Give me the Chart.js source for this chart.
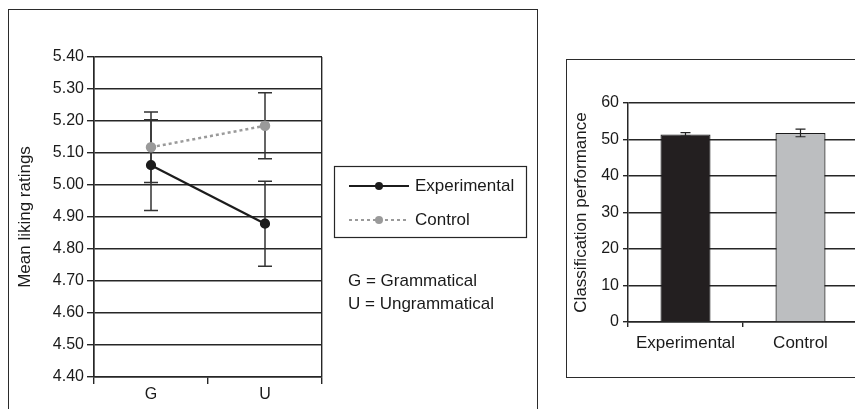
<!DOCTYPE html>
<html>
<head>
<meta charset="utf-8">
<script src="https://cdn.jsdelivr.net/npm/chart.js@4/dist/chart.umd.min.js"></script>
<style>
  body { margin: 0; background: #fff; overflow: hidden; width: 855px; height: 409px; position: relative; }
  .panel { position: absolute; border: 1px solid #2b2b2b; box-sizing: border-box; }
  canvas { position: absolute; }
</style>
</head>
<body>
<div class="panel" style="left:8px;top:9px;width:530px;height:430px;"></div>
<div class="panel" style="left:566px;top:59px;width:320px;height:319px;"></div>
<canvas id="likingChart" width="527" height="399" style="left:9px;top:10px;width:527px;height:399px;"></canvas>
<canvas id="classChart" width="300" height="316" style="left:567px;top:60px;width:300px;height:316px;"></canvas>
<script>
// left chart: mean liking ratings
const grammarLabels = ["G", "U"];
const expLiking = [5.062, 4.879];
const expLikingErr = [0.142, 0.133];
const ctlLiking = [5.118, 5.185];
const ctlLikingErr = [0.11, 0.103];
const notes = ["G = Grammatical", "U = Ungrammatical"];

// right chart: classification performance
const groupLabels = ["Experimental", "Control"];
const classPerf = [51.4, 51.8];
const classPerfErr = [0.5, 1.05];

const FONT = "'Liberation Sans', Arial, Helvetica, sans-serif";
const INK = "#262626";
const GRID_W = 1.4;

Chart.defaults.font.family = FONT;
Chart.defaults.color = "#1a1a1a";

// draws +/- error bars for every dataset that has an "errors" array
const errorBars = {
  id: "errorBars",
  beforeDatasetsDraw(chart, args, opts) {
    if (opts.layer !== "before") return;
    drawErrors(chart, opts);
  },
  afterDatasetsDraw(chart, args, opts) {
    if (opts.layer !== "after") return;
    drawErrors(chart, opts);
  },
};

function drawErrors(chart, opts) {
  const ctx = chart.ctx;
  const y = chart.scales.y;
  ctx.save();
  ctx.strokeStyle = opts.color || INK;
  ctx.lineWidth = opts.width || 1.5;
  chart.data.datasets.forEach((ds, di) => {
    if (!ds.errors) return;
    const meta = chart.getDatasetMeta(di);
    meta.data.forEach((el, i) => {
      const x = el.x;
      const top = y.getPixelForValue(ds.data[i] + ds.errors[i]);
      const bot = y.getPixelForValue(ds.data[i] - ds.errors[i]);
      const c = opts.cap || 6;
      ctx.beginPath();
      ctx.moveTo(x, top);
      ctx.lineTo(x, bot);
      ctx.moveTo(x - c, top);
      ctx.lineTo(x + c, top);
      ctx.moveTo(x - c, bot);
      ctx.lineTo(x + c, bot);
      ctx.stroke();
    });
  });
  ctx.restore();
}

// boxed legend plus the G/U notes
const boxLegend = {
  id: "boxLegend",
  afterDraw(chart) {
    const ctx = chart.ctx;
    ctx.save();
    ctx.strokeStyle = INK;
    ctx.lineWidth = 1.2;
    ctx.strokeRect(325.5, 156.5, 192, 71);
    ctx.font = "17px " + FONT;
    ctx.textBaseline = "middle";
    ctx.fillStyle = "#1a1a1a";
    const rows = [176, 210];
    chart.data.datasets.forEach((ds, i) => {
      const yy = rows[i];
      ctx.strokeStyle = ds.borderColor;
      ctx.lineWidth = 2;
      ctx.setLineDash(ds.borderDash || []);
      ctx.beginPath();
      ctx.moveTo(340, yy);
      ctx.lineTo(400, yy);
      ctx.stroke();
      ctx.setLineDash([]);
      ctx.fillStyle = ds.pointBackgroundColor;
      ctx.beginPath();
      ctx.arc(370, yy, 4, 0, Math.PI * 2);
      ctx.fill();
      ctx.fillStyle = "#1a1a1a";
      ctx.fillText(ds.label, 406, yy);
    });
    ctx.fillText(notes[0], 339, 271);
    ctx.fillText(notes[1], 339, 294);
    ctx.restore();
  },
};

new Chart(document.getElementById("likingChart"), {
  type: "line",
  data: {
    labels: grammarLabels,
    datasets: [
      {
        label: "Experimental",
        data: expLiking,
        errors: expLikingErr,
        borderColor: "#1c1c1c",
        borderWidth: 2.2,
        pointBackgroundColor: "#1c1c1c",
        pointBorderColor: "#1c1c1c",
        pointRadius: 4,
        tension: 0,
      },
      {
        label: "Control",
        data: ctlLiking,
        errors: ctlLikingErr,
        borderColor: "#9a9a9a",
        borderWidth: 2.5,
        borderDash: [3, 3],
        pointBackgroundColor: "#9a9a9a",
        pointBorderColor: "#9a9a9a",
        pointRadius: 4,
        tension: 0,
      },
    ],
  },
  options: {
    responsive: false,
    animation: false,
    layout: { padding: { left: 0, top: 47, right: 214, bottom: 0 } },
    plugins: {
      legend: { display: false },
      tooltip: { enabled: false },
      errorBars: { layer: "before", cap: 7, width: 1.5, color: "#333" },
    },
    scales: {
      x: {
        offset: true,
        afterFit: (s) => { s.height = 32; },
        grid: {
          offset: true,
          color: (c) => (c.index === 1 ? "rgba(0,0,0,0)" : INK),
          tickColor: INK,
          tickLength: 7,
          lineWidth: GRID_W,
        },
        border: { color: INK, width: GRID_W },
        ticks: { font: { size: 16 }, padding: 1, color: "#1a1a1a" },
      },
      y: {
        min: 4.4,
        max: 5.4,
        afterFit: (s) => { s.width = 85; },
        grid: { color: INK, tickLength: 7, lineWidth: GRID_W },
        border: { color: INK, width: 1.5 },
        ticks: {
          stepSize: 0.1,
          padding: 3,
          font: { size: 16 },
          color: "#1a1a1a",
          callback: (v) => Number(v).toFixed(2),
        },
        title: {
          display: true,
          text: "Mean liking ratings",
          font: { size: 17 },
          padding: { top: 6, bottom: 0 },
          color: "#1a1a1a",
        },
      },
    },
  },
  plugins: [errorBars, boxLegend],
});

new Chart(document.getElementById("classChart"), {
  type: "bar",
  data: {
    labels: groupLabels,
    datasets: [
      {
        label: "Classification performance",
        data: classPerf,
        errors: classPerfErr,
        backgroundColor: ["#231f20", "#bcbec0"],
        borderColor: "#1a1a1a",
        borderWidth: 1.2,
        categoryPercentage: 1,
        barPercentage: 0.435,
      },
    ],
  },
  options: {
    responsive: false,
    animation: false,
    layout: { padding: { left: 0, top: 43, right: 9, bottom: 0 } },
    plugins: {
      legend: { display: false },
      tooltip: { enabled: false },
      errorBars: { layer: "after", cap: 5, width: 1.2, color: "#222" },
    },
    scales: {
      x: {
        afterFit: (s) => { s.height = 54; },
        grid: { offset: true, drawOnChartArea: false, color: INK, tickLength: 5, lineWidth: GRID_W },
        border: { color: INK, width: GRID_W },
        ticks: { font: { size: 17 }, padding: 6, color: "#1a1a1a" },
      },
      y: {
        min: 0,
        max: 60,
        afterFit: (s) => { s.width = 61; },
        grid: { color: INK, tickLength: 5, lineWidth: GRID_W },
        border: { color: INK, width: 1.5 },
        ticks: { stepSize: 10, padding: 4, font: { size: 16 }, color: "#1a1a1a" },
        title: {
          display: true,
          text: "Classification performance",
          font: { size: 17 },
          padding: { top: 4, bottom: 0 },
          color: "#1a1a1a",
        },
      },
    },
  },
  plugins: [errorBars],
});
</script>
</body>
</html>
